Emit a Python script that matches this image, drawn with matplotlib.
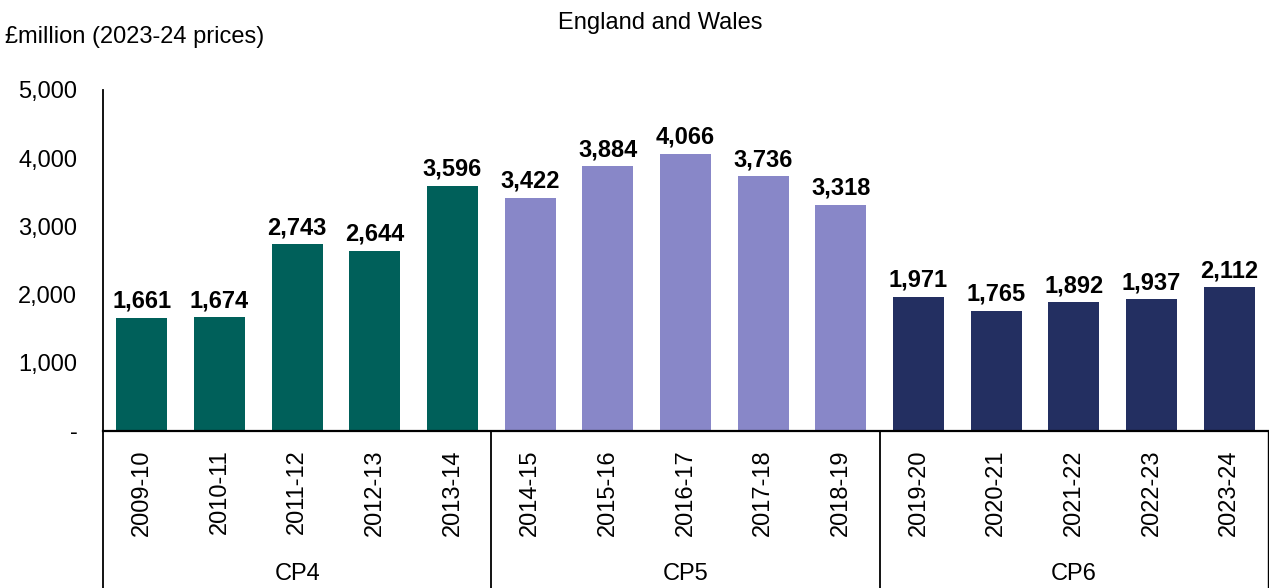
import matplotlib
matplotlib.use("Agg")
import matplotlib.pyplot as plt
from matplotlib.lines import Line2D

years = ["2009-10", "2010-11", "2011-12", "2012-13", "2013-14",
         "2014-15", "2015-16", "2016-17", "2017-18", "2018-19",
         "2019-20", "2020-21", "2021-22", "2022-23", "2023-24"]
values = [1661, 1674, 2743, 2644, 3596,
          3422, 3884, 4066, 3736, 3318,
          1971, 1765, 1892, 1937, 2112]
periods = ["CP4", "CP5", "CP6"]
period_sizes = [5, 5, 5]
period_colors = ["#00605A", "#8887C8", "#232F61"]
yticks = [0, 1000, 2000, 3000, 4000, 5000]

plt.rcParams['font.family'] = ['Liberation Sans', 'DejaVu Sans']
FS = 17

fig = plt.figure(figsize=(12.69, 5.88), dpi=100)
ax_left, ax_bottom, ax_w, ax_h = 103 / 1269, 1 - 431 / 588, 1165 / 1269, 341 / 588
ax = fig.add_axes([ax_left, ax_bottom, ax_w, ax_h])

colors = []
for c, n in zip(period_colors, period_sizes):
    colors += [c] * n

x = list(range(len(years)))
ax.bar(x, values, width=0.66, color=colors, zorder=2)
for xi, v in zip(x, values):
    ax.text(xi, v + 70, f"{v:,}", ha="center", va="bottom",
            fontsize=FS, fontweight="bold", color="black")

ax.set_xlim(-0.5, len(years) - 0.5)
ax.set_ylim(0, 5000)
ax.set_yticks(yticks)
ax.set_yticklabels(["-" if t == 0 else f"{t:,}" for t in yticks], fontsize=FS)
ax.tick_params(axis="y", length=0, pad=18.5)
ax.set_xticks(x)
ax.set_xticklabels(years, rotation=90, fontsize=FS, va="top")
ax.tick_params(axis="x", length=0, pad=13)

for s in ["top", "right"]:
    ax.spines[s].set_visible(False)
ax.spines["left"].set_linewidth(1.3)
ax.spines["bottom"].set_linewidth(1.6)

# group separators and period labels
trans = ax.get_xaxis_transform()
bottom_frac = -(431 / 588) / ax_h
bounds = [-0.5]
start = 0
for n in period_sizes:
    start += n
    bounds.append(start - 0.5)
for i, b in enumerate(bounds):
    lw = 1.0 if i == len(bounds) - 1 else 1.3
    ax.add_line(Line2D([b, b], [0, bottom_frac], transform=trans,
                       color="black", linewidth=lw, clip_on=False))
start = 0
label_y = -((574 - 431) / 588) / ax_h
for p, n in zip(periods, period_sizes):
    center = start + (n - 1) / 2
    ax.text(center, label_y, p, transform=trans, ha="center",
            va="center", fontsize=FS)
    start += n

fig.text(660 / 1269, 1 - 23 / 588, "England and Wales", ha="center", va="center", fontsize=FS)
fig.text(0.004, 1 - 37 / 588, "£million (2023-24 prices)", ha="left", va="center", fontsize=FS)

fig.savefig("out.png", dpi=100)
